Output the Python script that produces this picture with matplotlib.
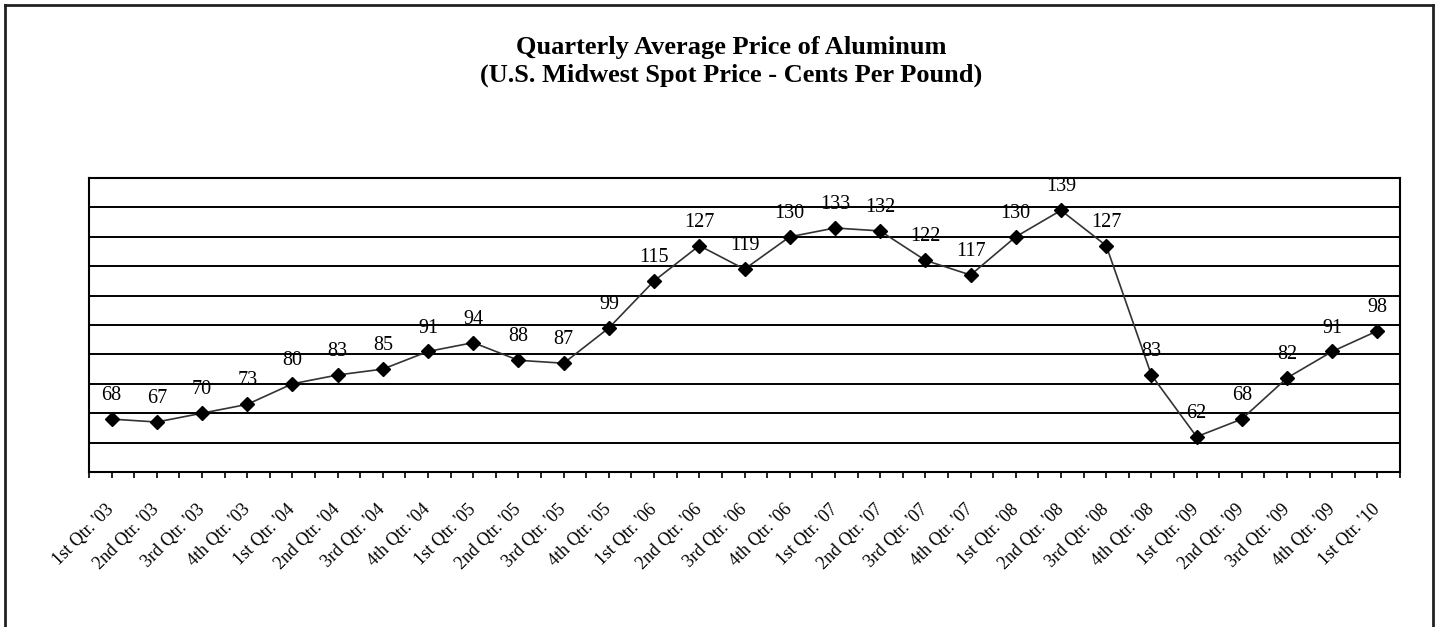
import matplotlib
matplotlib.use('Agg')
import matplotlib.pyplot as plt
from matplotlib.lines import Line2D
import numpy as np

plt.rcParams['font.family'] = 'Liberation Serif'

# quarterly prices, cents per pound
quarters = ["1st Qtr. '03", "2nd Qtr. '03", "3rd Qtr. '03", "4th Qtr. '03",
            "1st Qtr. '04", "2nd Qtr. '04", "3rd Qtr. '04", "4th Qtr. '04",
            "1st Qtr. '05", "2nd Qtr. '05", "3rd Qtr. '05", "4th Qtr. '05",
            "1st Qtr. '06", "2nd Qtr. '06", "3rd Qtr. '06", "4th Qtr. '06",
            "1st Qtr. '07", "2nd Qtr. '07", "3rd Qtr. '07", "4th Qtr. '07",
            "1st Qtr. '08", "2nd Qtr. '08", "3rd Qtr. '08", "4th Qtr. '08",
            "1st Qtr. '09", "2nd Qtr. '09", "3rd Qtr. '09", "4th Qtr. '09",
            "1st Qtr. '10"]
prices = [68, 67, 70, 73, 80, 83, 85, 91, 94, 88, 87, 99, 115, 127, 119,
          130, 133, 132, 122, 117, 130, 139, 127, 83, 62, 68, 82, 91, 98]

fig = plt.figure(figsize=(14.37, 6.27), dpi=100)
ax = fig.add_axes([0.0619, 0.2472, 0.9124, 0.4689])

x = np.arange(len(prices))
ax.plot(x, prices, color='#333333', lw=1.2, marker='D', markersize=7,
        markerfacecolor='black', markeredgecolor='black', zorder=3)

for xi, v in zip(x, prices):
    ax.annotate(str(v), (xi, v), xytext=(0, 10), textcoords='offset points',
                ha='center', va='bottom', fontsize=14.5)

ax.set_xlim(-0.5, len(prices) - 0.5)
ax.set_ylim(50, 150)
ax.set_yticks(np.arange(60, 150, 10))
ax.tick_params(axis='y', left=False, labelleft=False)
ax.grid(axis='y', color='black', lw=1.4)
ax.set_axisbelow(True)

ax.set_xticks(x)
ax.set_xticks(np.arange(-0.5, len(prices), 1), minor=True)
ax.set_xticklabels(quarters, rotation=45, ha='right', va='center',
                   rotation_mode='anchor', fontsize=13)
ax.tick_params(axis='x', which='both', direction='out', length=4, width=1.2,
               pad=21)
for s in ax.spines.values():
    s.set_linewidth(1.5)

fig.text(0.509, 0.902, 'Quarterly Average Price of Aluminum\n'
         '(U.S. Midwest Spot Price - Cents Per Pound)',
         ha='center', va='center', fontsize=19, fontweight='bold',
         linespacing=1.27)

# frame around the whole chart (open at the bottom edge)
for xs, ys in [([0.0035, 0.0035], [0, 0.992]), ([0.0035, 0.9975], [0.992, 0.992]),
               ([0.9975, 0.9975], [0, 0.992])]:
    fig.add_artist(Line2D(xs, ys, transform=fig.transFigure, color='#222222', lw=2))

fig.savefig('out.png', dpi=100)
